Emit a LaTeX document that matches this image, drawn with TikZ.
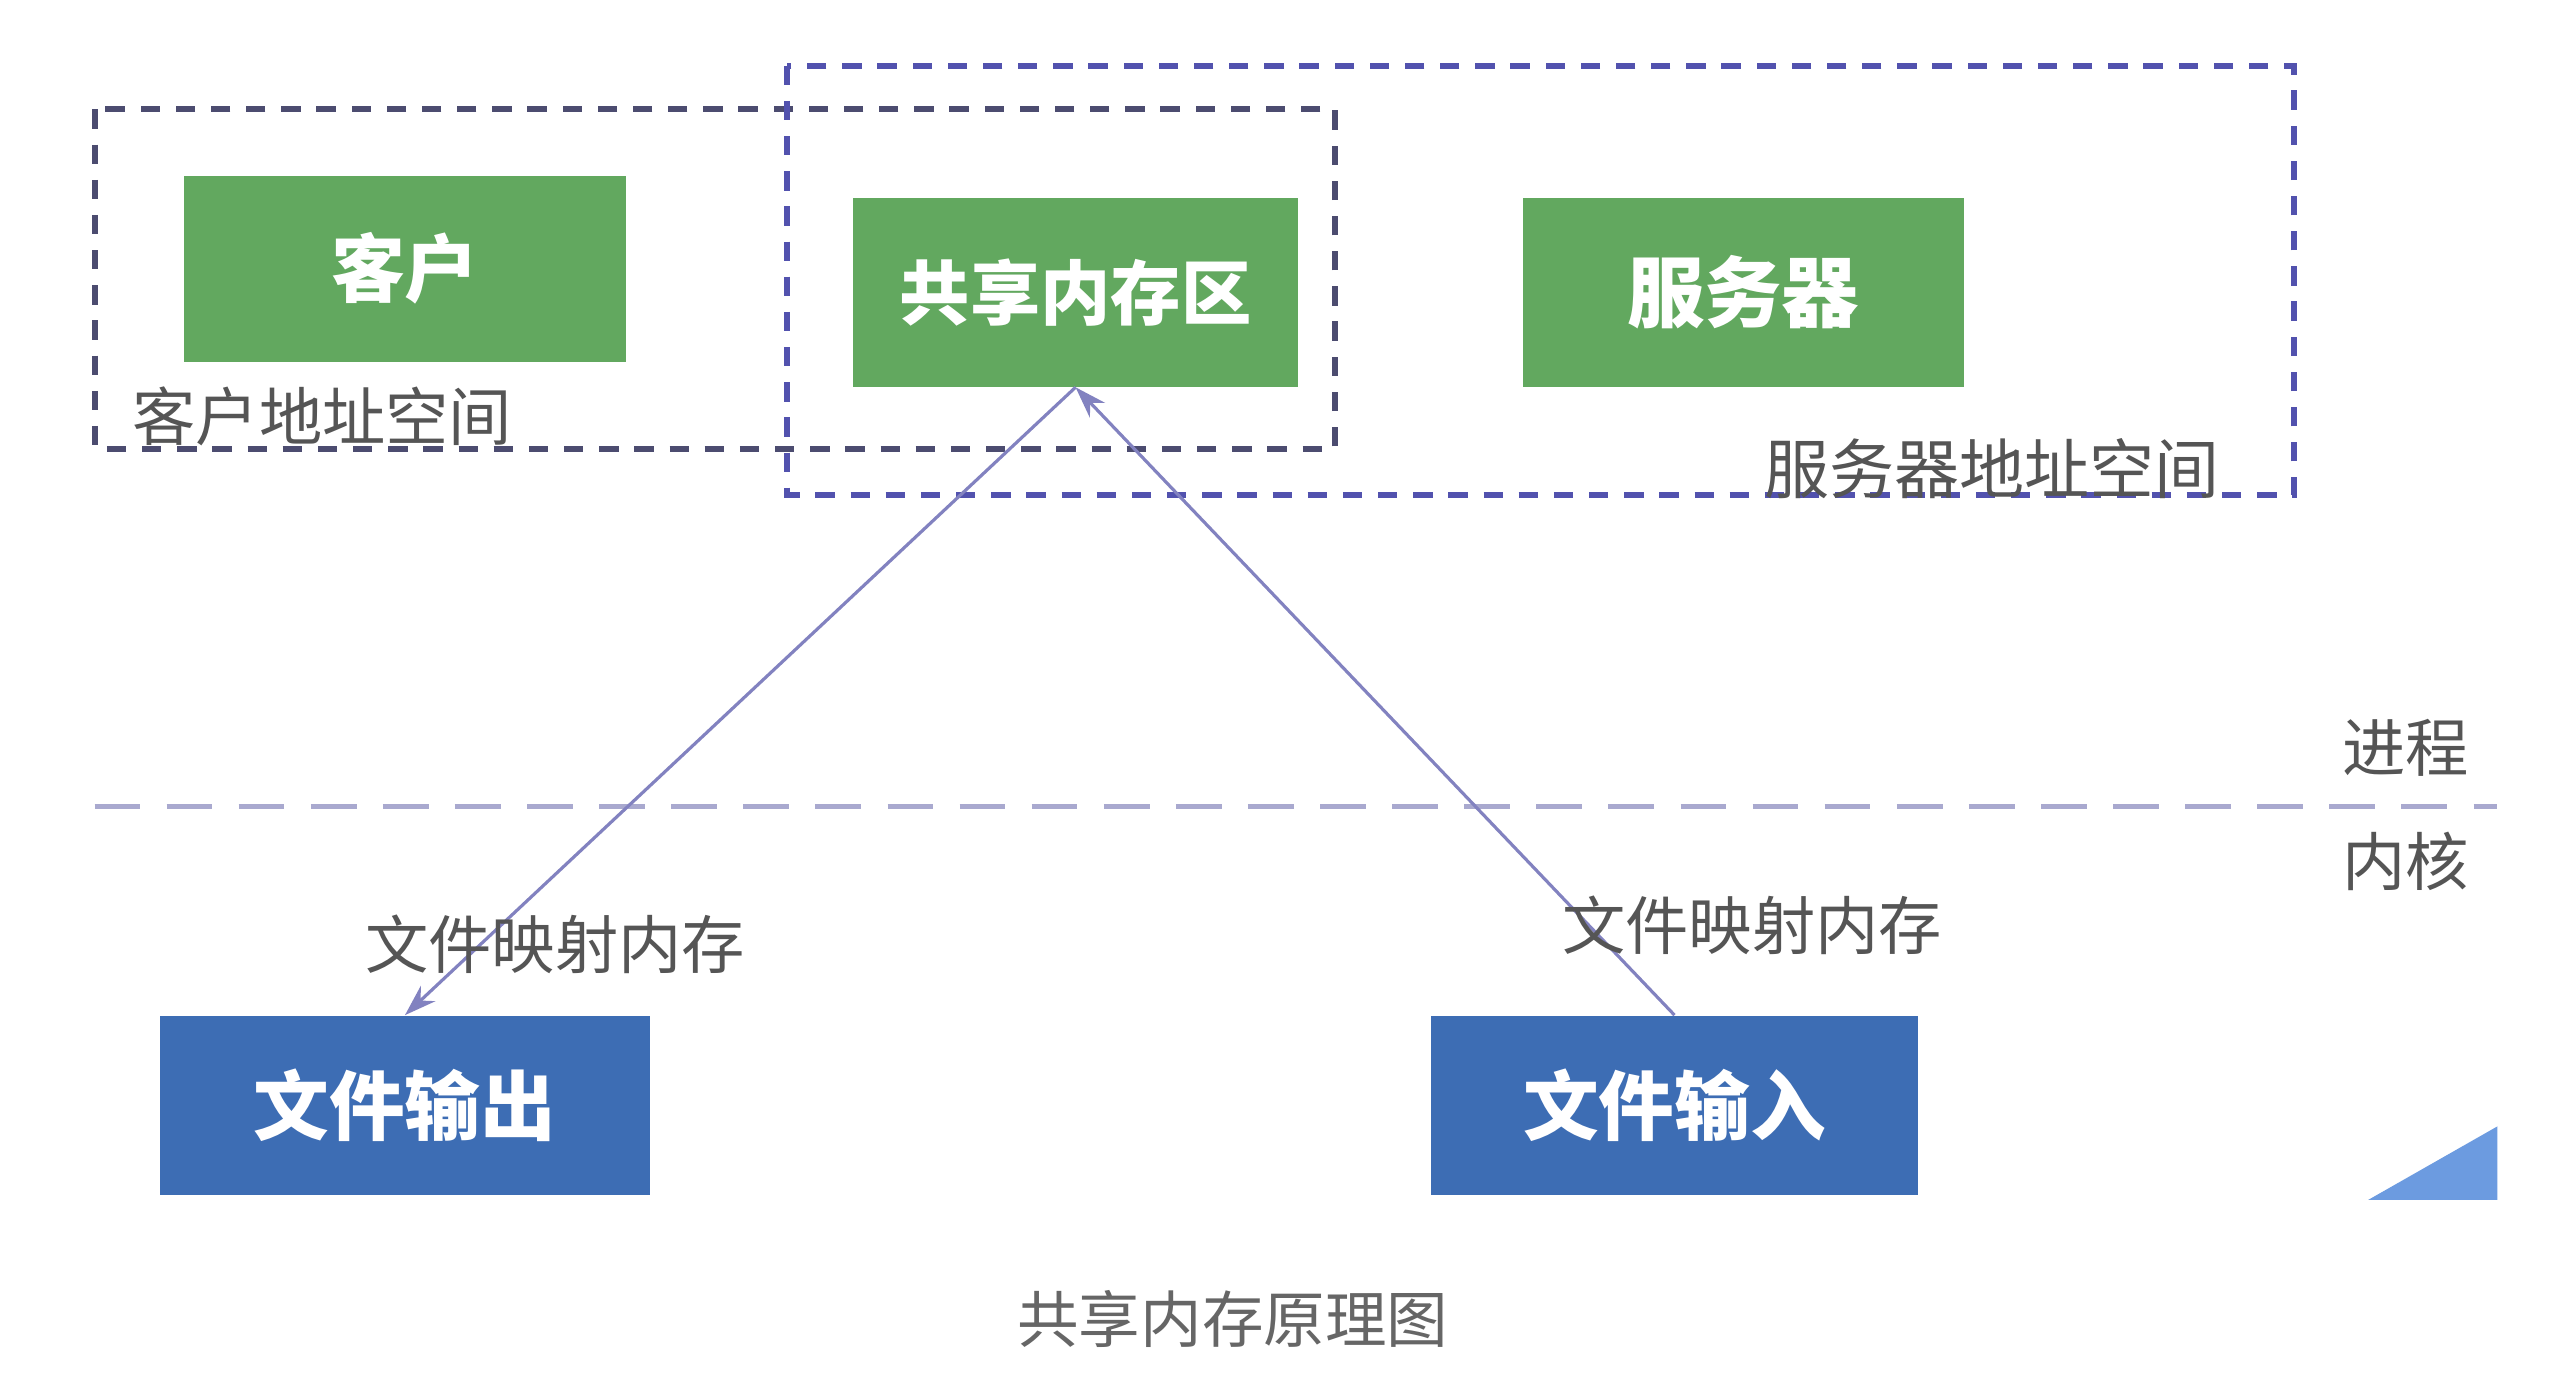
\documentclass[tikz,border=0pt]{standalone}
\usepackage{fontspec}
\setmainfont{Noto Sans CJK SC}
\newfontfamily\cjk{Noto Sans CJK SC}
\usetikzlibrary{arrows.meta}
\definecolor{gfill}{HTML}{62A85F}
\definecolor{bfill}{HTML}{3D6DB4}
\definecolor{cdash}{HTML}{4C4C70}
\definecolor{sdash}{HTML}{5252AE}
\definecolor{hdash}{HTML}{A9A9CF}
\definecolor{arrc}{HTML}{8282C0}
\definecolor{lbl}{HTML}{555555}
\definecolor{cap}{HTML}{666666}
\definecolor{tri}{HTML}{6C9BE0}
\tikzset{
  gbox/.style={fill=gfill, text=white, font=\cjk\bfseries\fontsize{21pt}{21pt}\selectfont, inner sep=0pt},
  bbox/.style={fill=bfill, text=white, font=\cjk\bfseries\fontsize{21.5pt}{21.5pt}\selectfont, inner sep=0pt, minimum height=1.79cm},
  lab/.style={text=lbl, font=\cjk\fontsize{18pt}{18pt}\selectfont, inner sep=0pt},
  cbox/.style={draw=cdash, line width=1.7pt, dash pattern=on 5.5pt off 4.5pt},
  sbox/.style={draw=sdash, line width=1.7pt, dash pattern=on 5.5pt off 4.5pt},
  hline/.style={draw=hdash, line width=1.4pt, dash pattern=on 13pt off 7.5pt},
  arr/.style={draw=arrc, line width=0.9pt, -{Stealth[length=9pt,width=6pt]}},
}
\begin{document}
\begin{tikzpicture}[x=0.01cm,y=-0.01cm]
\useasboundingbox[fill=white] (0,0) rectangle (2560,1376);
\begin{scope}[scale=0.995]
% address spaces
\draw[cbox] (95,110) rectangle (1342,451);
\draw[sbox] (791,66) rectangle (2306,497);
% boxes
\node[gbox, minimum width=4.42cm, minimum height=1.86cm] (client) at (407,270) {客户};
\node[gbox, minimum width=4.45cm, minimum height=1.88cm, font=\cjk\bfseries\fontsize{20pt}{20pt}\selectfont] (shm) at (1081,294) {共享内存区};
\node[gbox, minimum width=4.41cm, minimum height=1.88cm, font=\cjk\bfseries\fontsize{22pt}{22pt}\selectfont] (server) at (1752,294) {服务器};
\node[bbox, minimum width=4.89cm] (fout) at (407,1111) {文件输出};
\node[bbox, minimum width=4.87cm] (fin) at (1683,1111) {文件输入};
% labels
\node[lab] (clab) at (324,418) {客户地址空间};
\node[lab, font=\cjk\fontsize{18.5pt}{18.5pt}\selectfont] (slab) at (2002,471) {服务器地址空间};
\node[lab] (proc) at (2418,752) {进程};
\node[lab] (kern) at (2418,866) {内核};
% kernel / process line
\coordinate (hl) at (95,811);
\coordinate (hr) at (2510,811);
\draw[hline] (hl) -- (hr);
% arrows
\draw[arr] (shm.south) -- (fout.north);
\draw[arr] (fin.north) -- (shm.south);
\node[lab] (m1) at (558,949) {文件映射内存};
\node[lab] (m2) at (1761,930) {文件映射内存};
% caption
\node[text=cap, font=\cjk\fontsize{17.5pt}{17.5pt}\selectfont, inner sep=0pt] (caption) at (1239,1326) {共享内存原理图};
% corner triangle
\fill[tri] (2380,1206) -- (2510,1206) -- (2510,1132) -- cycle;
\end{scope}
\end{tikzpicture}
\end{document}
